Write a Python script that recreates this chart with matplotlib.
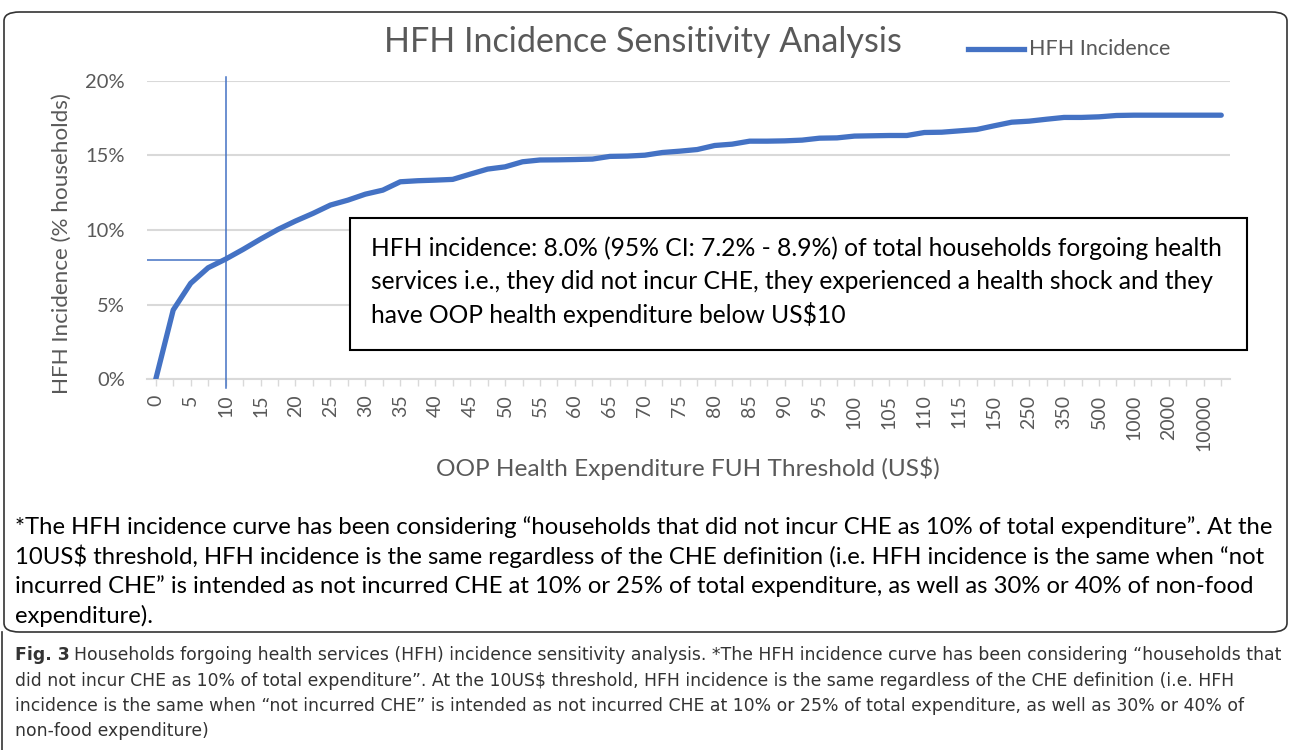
import numpy as np
import matplotlib.pyplot as plt
from matplotlib.patches import FancyBboxPatch
from matplotlib.lines import Line2D

# HFH incidence at each threshold category (fraction of households)
hfh = [0.0, 0.0464, 0.0643, 0.0747, 0.0805, 0.087, 0.0939, 0.1004, 0.106, 0.1111,
       0.1167, 0.120, 0.124, 0.1267, 0.1323, 0.133, 0.1334, 0.1339, 0.1374, 0.1408,
       0.1423, 0.1457, 0.1469, 0.147, 0.1472, 0.1475, 0.1493, 0.1495, 0.1501, 0.1519,
       0.1528, 0.1539, 0.1566, 0.1575, 0.1595, 0.1595, 0.1597, 0.1602, 0.1615, 0.1617,
       0.1629, 0.1631, 0.1633, 0.1633, 0.1653, 0.1655, 0.1664, 0.1673, 0.1698, 0.1722,
       0.1729, 0.1742, 0.1754, 0.1754, 0.1758, 0.1767, 0.1769, 0.1769, 0.1769, 0.1769,
       0.1769, 0.1769]
# labels shown on every second category
shown_labels = ['0', '5', '10', '15', '20', '25', '30', '35', '40', '45', '50', '55',
                '60', '65', '70', '75', '80', '85', '90', '95', '100', '105', '110',
                '115', '150', '250', '350', '500', '1000', '2000', '10000']
y_ticks = [0, 0.05, 0.10, 0.15, 0.20]
ref_idx = 4        # US$10 threshold
ref_val = 0.080

blue = '#4472C4'
grey = '#595959'
plt.rcParams['font.family'] = ['Lato', 'DejaVu Sans']

W, H = 1292, 750
fig = plt.figure(figsize=(W / 100, H / 100), dpi=100)
ax_h = 379.3 - 80.7
ax_w = 1230 - 147
ax = fig.add_axes([147 / W, 1 - 379.3 / H, ax_w / W, ax_h / H])

x = np.arange(len(hfh))
ax.plot(x, hfh, color=blue, lw=3.8, solid_capstyle='round', zorder=4)
ax.set_xlim(-0.5, len(hfh) - 0.5)
ax.set_ylim(0, 0.2)

ax.set_yticks(y_ticks)
ax.set_yticklabels([f'{int(round(v * 100))}%' for v in y_ticks])
ax.set_xticks(x)
ax.set_xticklabels([shown_labels[i // 2] if i % 2 == 0 else '' for i in x], rotation=90)
ax.tick_params(axis='y', length=0, pad=16, labelsize=14.5, labelcolor=grey)
ax.tick_params(axis='x', length=5, width=1, color='#d9d9d9', pad=6, labelsize=14,
               labelcolor=grey, direction='out')
ax.grid(axis='y', color='#d9d9d9', lw=1.5)
ax.set_axisbelow(True)
for s in ['top', 'right', 'left']:
    ax.spines[s].set_visible(False)
ax.spines['bottom'].set_color('#d9d9d9')
ax.spines['bottom'].set_linewidth(1.5)

# reference lines at the US$10 threshold
ax.plot([ref_idx, ref_idx], [-0.006, 0.2027], color=blue, lw=1.1, clip_on=False, zorder=3)
ax.plot([-0.5, ref_idx], [ref_val, ref_val], color=blue, lw=1.1, zorder=3)

ax.set_ylabel('HFH Incidence (% households)', fontsize=16.2, color=grey, va='center')
ax.yaxis.set_label_coords((62 - 147) / ax_w, (379.3 - 244) / ax_h)
ax.set_xlabel('OOP Health Expenditure FUH Threshold (US\\$)', fontsize=17.6, color=grey,
              va='center')
ax.xaxis.set_label_coords((688 - 147) / ax_w, -(468 - 379.3) / ax_h)

fig.text(643 / W, 1 - 42 / H, 'HFH Incidence Sensitivity Analysis', fontsize=24.6,
         color=grey, ha='center', va='center')

# legend
fig.add_artist(Line2D([968 / W, 1024 / W], [1 - 49 / H, 1 - 49 / H], color=blue, lw=3.8))
fig.text(1029 / W, 1 - 49 / H, 'HFH Incidence', fontsize=15.5, color=grey, va='center')

# annotation box
box_lines = ['HFH incidence: 8.0% (95% CI: 7.2% - 8.9%) of total households forgoing health',
             'services i.e., they did not incur CHE, they experienced a health shock and they',
             'have OOP health expenditure below US\\$10']
fig.add_artist(plt.Rectangle((350 / W, 1 - 350 / H), (1247 - 350) / W, (350 - 218) / H,
                             facecolor='white', edgecolor='black', lw=1.5, zorder=5))
for i, t in enumerate(box_lines):
    fig.text(371 / W, 1 - (248 + 33.5 * i) / H, t, fontsize=17.7, color='black',
             va='center', zorder=6)

# outer chart frame
fig.add_artist(FancyBboxPatch((4 / W, 1 - 632 / H), (1287 - 4) / W, (632 - 12) / H,
                              boxstyle='round,pad=0,rounding_size=0.012',
                              facecolor='none', edgecolor='#333333', lw=1.2))
fig.add_artist(Line2D([2 / W, 2 / W], [0, 1 - 632 / H], color='#333333', lw=1.2))

note_lines = ['*The HFH incidence curve has been considering “households that did not incur CHE as 10% of total expenditure”. At the',
              '10US\\$ threshold, HFH incidence is the same regardless of the CHE definition (i.e. HFH incidence is the same when “not',
              'incurred CHE” is intended as not incurred CHE at 10% or 25% of total expenditure, as well as 30% or 40% of non-food',
              'expenditure).']
for i, t in enumerate(note_lines):
    fig.text(15 / W, 1 - (527 + 29.5 * i) / H, t, fontsize=17.2, color='black', va='center')

cap_font = ['DejaVu Sans']
fig.text(15 / W, 1 - 655 / H, 'Fig. 3', fontsize=12.4, fontweight='bold', color='#333333',
         va='center', family=cap_font)
cap_lines = ['Households forgoing health services (HFH) incidence sensitivity analysis. *The HFH incidence curve has been considering “households that',
             'did not incur CHE as 10% of total expenditure”. At the 10US\\$ threshold, HFH incidence is the same regardless of the CHE definition (i.e. HFH',
             'incidence is the same when “not incurred CHE” is intended as not incurred CHE at 10% or 25% of total expenditure, as well as 30% or 40% of',
             'non-food expenditure)']
for i, t in enumerate(cap_lines):
    fig.text((15 if i else 74) / W, 1 - (655 + 25.5 * i) / H, t, fontsize=12.4,
             color='#333333', va='center', family=cap_font)

fig.savefig('out.png', dpi=100)
